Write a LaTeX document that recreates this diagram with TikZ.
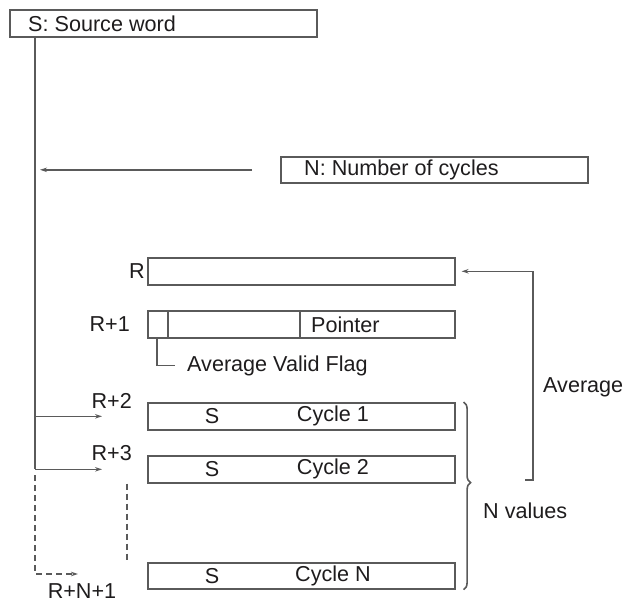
\documentclass[tikz,border=0pt]{standalone}
\usepackage{fontspec}
\setmainfont{Liberation Sans}
\usetikzlibrary{positioning,arrows.meta,calc,decorations.pathreplacing}
\definecolor{wordgray}{RGB}{90,90,90}
\definecolor{wordink}{RGB}{30,28,29}

\begin{document}
\begin{tikzpicture}[x=1pt,y=-1pt,
  >={Stealth[length=7pt,width=4.5pt]},
  reg/.style={draw=wordgray,line width=1.6pt,minimum width=307pt,minimum height=27pt,inner sep=0pt,anchor=north west},
  lab/.style={font=\fontsize{21.6}{25}\selectfont,text=wordink,inner sep=0pt},
  wire/.style={draw=wordgray,line width=1.6pt},
  dotwire/.style={wire,dash pattern=on 6pt off 4pt}
]
\useasboundingbox (0,0) rectangle (623,603);

% Source word
\node[reg] (src) at (9,9) {};
\node[lab,anchor=west] (srclab) at ([xshift=19pt]src.west) {S: Source word};

% Number of cycles
\node[reg,minimum height=26pt] (ncyc) at (280,156) {};
\node[lab,anchor=west] (ncyclab) at ([xshift=24pt]ncyc.west) {N: Number of cycles};

% R: average value
\node[reg] (avg) at (147,257) {};
\node[lab,anchor=east] (rlab) at ([xshift=-2pt]avg.west) {R};

% R+1: flag and pointer
\node[reg] (ptr) at (147,310) {};
\draw[wire] ([xshift=21pt]ptr.north west) -- ([xshift=21pt]ptr.south west);
\draw[wire] ([xshift=153pt]ptr.north west) -- ([xshift=153pt]ptr.south west);
\node[lab,anchor=west] (ptrlab) at ([xshift=164pt]ptr.west) {Pointer};
\node[lab,anchor=east] (r1lab) at ([xshift=-17pt]ptr.west) {R+1};
\coordinate (flagcorner) at ($(ptr.south west)+(10,27)$);
\node[lab,anchor=west] (flaglab) at ($(flagcorner)+(30,0)$) {Average Valid Flag};
\draw[wire] ([xshift=10pt]ptr.south west) -- (flagcorner) -- ([xshift=-12pt]flaglab.west);

% R+2 ... R+N+1: stored cycles
\node[reg] (c1) at (147,402) {};
\node[lab] at ([xshift=65pt]c1.west) {S};
\node[lab] at ([xshift=186pt]c1.west) {Cycle 1};
\node[lab,anchor=south east] (r2lab) at ([xshift=-15pt,yshift=8pt]c1.west) {R+2};

\node[reg] (c2) at (147,455) {};
\node[lab] at ([xshift=65pt]c2.west) {S};
\node[lab] at ([xshift=186pt]c2.west) {Cycle 2};
\node[lab,anchor=south east] (r3lab) at ([xshift=-15pt,yshift=8pt]c2.west) {R+3};

\node[reg,minimum height=26pt] (cN) at (147,562) {};
\node[lab] at ([xshift=65pt]cN.west) {S};
\node[lab] at ([xshift=186pt]cN.west) {Cycle N};

% Trunk from the source word
\coordinate (trunktop) at ([xshift=26pt]src.south west);
\draw[wire] (trunktop) -- (c2.west -| trunktop);
\draw[wire,->,shorten >=5pt] ([xshift=-28pt]ncyc.west) -- (ncyc.west -| trunktop);
\draw[wire,->,shorten >=45pt] (c1.west -| trunktop) -- (c1.west);
\draw[wire,->,shorten >=45pt] (c2.west -| trunktop) -- (c2.west);

% Dashed continuation to R+N+1
\coordinate (rn1) at (78,574);
\draw[dotwire,->] ([yshift=-6pt]c2.west -| trunktop) |- (rn1);
\node[lab,below=9pt of rn1,xshift=4pt] (rn1lab) {R+N+1};
\draw[dotwire] ([xshift=-20pt]c2.south west) -- ([xshift=-20pt]cN.north west);

% N values brace and average feedback
\draw[wire,decorate,decoration={brace,amplitude=7pt,aspect=0.43}] ([xshift=8pt]c1.north east) -- ([xshift=8pt]cN.south east);
\node[lab,anchor=west] (nvallab) at (483,511) {N values};
\coordinate (avgfoot) at (533,480);
\draw[wire,->,shorten >=6pt] ([xshift=-8pt]avgfoot) -- (avgfoot) |- (avg.east);
\node[lab,anchor=west] (avglab) at (543,387) {Average};

\end{tikzpicture}
\end{document}
